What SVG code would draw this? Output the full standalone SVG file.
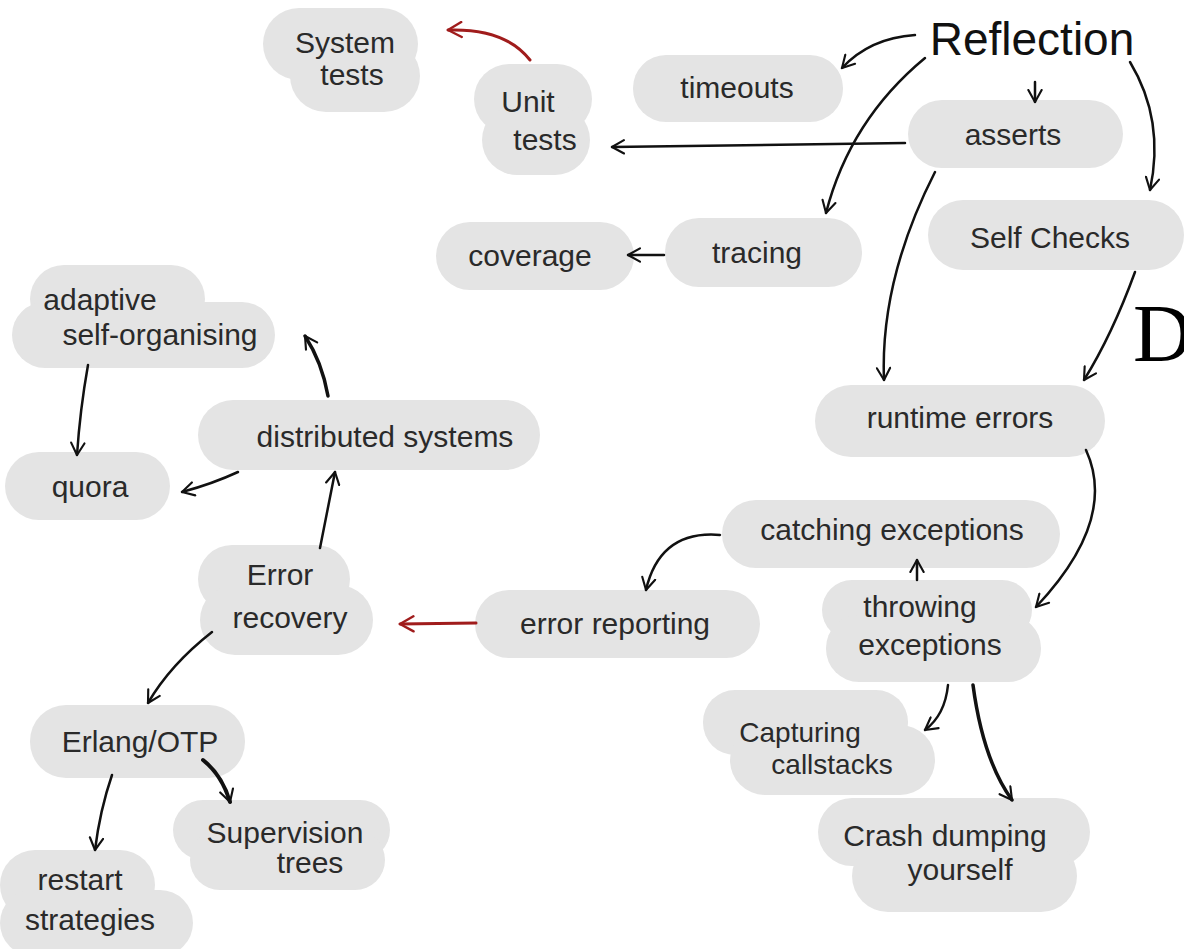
<svg xmlns="http://www.w3.org/2000/svg" width="1184" height="949" viewBox="0 0 1184 949">
<style>
.blob{fill:#e4e4e4}
.t{font-family:"Liberation Sans","DejaVu Sans",sans-serif;font-size:30px;fill:#2a2a2a;text-anchor:middle}
.c{fill:none;stroke:#111;stroke-width:2.5;stroke-linecap:round}
.r{fill:none;stroke:#a01c1c;stroke-width:3;stroke-linecap:round}
</style>
<defs>
<marker id="ah" viewBox="0 0 12 12" refX="10" refY="6" markerWidth="16" markerHeight="16" markerUnits="userSpaceOnUse" orient="auto"><path d="M1,1 L10,6 L1,11" fill="none" stroke="#111" stroke-width="1.6" stroke-linecap="round" stroke-linejoin="round"/></marker>
<marker id="ahr" viewBox="0 0 12 12" refX="10" refY="6" markerWidth="18" markerHeight="18" markerUnits="userSpaceOnUse" orient="auto"><path d="M1,1 L10,6 L1,11" fill="none" stroke="#a01c1c" stroke-width="1.6" stroke-linecap="round" stroke-linejoin="round"/></marker>
</defs>
<rect width="1184" height="949" fill="#fff"/>
<g id="system-tests"><rect class="blob" x="263" y="8" width="155" height="72" rx="36"/><rect class="blob" x="290" y="40" width="130" height="72" rx="36"/><text class="t" x="345" y="53">System</text><text class="t" x="352" y="85">tests</text></g>
<g id="unit-tests"><rect class="blob" x="474" y="64" width="118" height="70" rx="35"/><rect class="blob" x="482" y="105" width="108" height="70" rx="35"/><text class="t" x="528" y="112">Unit</text><text class="t" x="545" y="150">tests</text></g>
<g id="timeouts"><rect class="blob" x="633" y="55" width="210" height="67" rx="33"/><text class="t" x="737" y="98">timeouts</text></g>
<g id="reflection"><text class="t" x="1032" y="55" style="font-size:46px;fill:#111">Reflection</text></g>
<g id="asserts"><rect class="blob" x="908" y="100" width="215" height="68" rx="34"/><text class="t" x="1013" y="145">asserts</text></g>
<g id="self-checks"><rect class="blob" x="928" y="200" width="256" height="70" rx="35"/><text class="t" x="1050" y="248">Self Checks</text></g>
<g id="coverage"><rect class="blob" x="436" y="222" width="198" height="68" rx="34"/><text class="t" x="530" y="266">coverage</text></g>
<g id="tracing"><rect class="blob" x="665" y="218" width="197" height="69" rx="34"/><text class="t" x="757" y="263">tracing</text></g>
<g id="adaptive"><rect class="blob" x="30" y="265" width="175" height="68" rx="34"/><rect class="blob" x="12" y="302" width="263" height="66" rx="33"/><text class="t" x="100" y="310">adaptive</text><text class="t" x="160" y="345">self-organising</text></g>
<g id="distributed"><rect class="blob" x="198" y="400" width="342" height="70" rx="35"/><text class="t" x="385" y="447">distributed systems</text></g>
<g id="quora"><rect class="blob" x="5" y="452" width="165" height="68" rx="34"/><text class="t" x="90" y="497">quora</text></g>
<g id="runtime-errors"><rect class="blob" x="815" y="385" width="290" height="72" rx="36"/><text class="t" x="960" y="428">runtime errors</text></g>
<g id="catching"><rect class="blob" x="722" y="500" width="338" height="68" rx="34"/><text class="t" x="892" y="540">catching exceptions</text></g>
<g id="throwing"><rect class="blob" x="822" y="580" width="210" height="60" rx="30"/><rect class="blob" x="826" y="615" width="215" height="67" rx="33"/><text class="t" x="920" y="617">throwing</text><text class="t" x="930" y="655">exceptions</text></g>
<g id="error-recovery"><rect class="blob" x="198" y="545" width="152" height="68" rx="34"/><rect class="blob" x="200" y="585" width="173" height="70" rx="35"/><text class="t" x="280" y="585">Error</text><text class="t" x="290" y="628">recovery</text></g>
<g id="error-reporting"><rect class="blob" x="475" y="590" width="285" height="68" rx="34"/><text class="t" x="615" y="634">error reporting</text></g>
<g id="erlang"><rect class="blob" x="30" y="705" width="215" height="73" rx="36"/><text class="t" x="140" y="752">Erlang/OTP</text></g>
<g id="supervision"><rect class="blob" x="173" y="800" width="217" height="60" rx="30"/><rect class="blob" x="190" y="830" width="195" height="60" rx="30"/><text class="t" x="285" y="843">Supervision</text><text class="t" x="310" y="873">trees</text></g>
<g id="restart"><rect class="blob" x="0" y="850" width="155" height="70" rx="35"/><rect class="blob" x="0" y="890" width="193" height="66" rx="33"/><text class="t" x="80" y="890">restart</text><text class="t" x="90" y="930">strategies</text></g>
<g id="capturing"><rect class="blob" x="703" y="690" width="205" height="65" rx="32"/><rect class="blob" x="730" y="725" width="205" height="70" rx="35"/><text class="t" x="800" y="742" style="font-size:28px">Capturing</text><text class="t" x="832" y="774" style="font-size:28px">callstacks</text></g>
<g id="crash"><rect class="blob" x="818" y="798" width="272" height="68" rx="34"/><rect class="blob" x="852" y="840" width="225" height="72" rx="36"/><text class="t" x="945" y="846">Crash dumping</text><text class="t" x="960" y="880">yourself</text></g>
<g id="stray-d"><text x="1133" y="361" style="font-family:'Liberation Serif',serif;font-size:82px;fill:#000">D</text></g>
<g id="connectors">
<path class="r" d="M530,60 Q505,28 448,30" marker-end="url(#ahr)"/>
<path class="c" d="M915,35 Q870,38 842,68" marker-end="url(#ah)"/>
<path class="c" d="M1035,82 L1035,102" marker-end="url(#ah)"/>
<path class="c" d="M925,58 Q850,120 826,213" marker-end="url(#ah)"/>
<path class="c" d="M1130,62 Q1165,120 1150,190" marker-end="url(#ah)"/>
<path class="c" d="M905,143 L612,147" marker-end="url(#ah)"/>
<path class="c" d="M935,172 Q880,280 884,380" marker-end="url(#ah)"/>
<path class="c" d="M1135,272 Q1112,335 1084,380" marker-end="url(#ah)"/>
<path class="c" d="M664,255 L628,255" marker-end="url(#ah)"/>
<path class="c" d="M1086,450 Q1118,520 1036,607" marker-end="url(#ah)"/>
<path class="c" d="M917,580 L917,560" marker-end="url(#ah)"/>
<path class="c" d="M720,535 Q660,530 646,590" marker-end="url(#ah)"/>
<path class="r" d="M476,623 L400,624" marker-end="url(#ahr)"/>
<path class="c" d="M320,548 L335,472" marker-end="url(#ah)"/>
<path class="c" d="M328,396 Q322,362 305,336" marker-end="url(#ah)" style="stroke-width:3.5"/>
<path class="c" d="M238,472 Q212,484 182,492" marker-end="url(#ah)"/>
<path class="c" d="M88,365 Q80,410 77,455" marker-end="url(#ah)"/>
<path class="c" d="M212,632 Q170,665 148,703" marker-end="url(#ah)"/>
<path class="c" d="M203,760 Q222,775 230,802" marker-end="url(#ah)" style="stroke-width:4"/>
<path class="c" d="M112,775 Q100,810 95,850" marker-end="url(#ah)"/>
<path class="c" d="M948,685 Q945,715 925,730" marker-end="url(#ah)"/>
<path class="c" d="M973,685 Q983,760 1012,800" marker-end="url(#ah)" style="stroke-width:3.5"/>
</g>
</svg>
